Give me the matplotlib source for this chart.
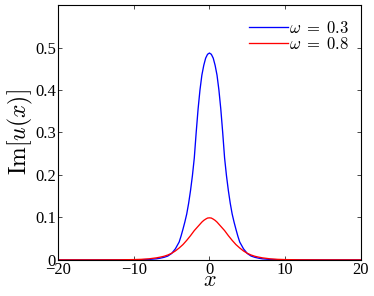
import numpy as np
import matplotlib
matplotlib.use("Agg")
import matplotlib.pyplot as plt

# Half-profile x positions (symmetric about 0)
x_half = [0, 0.25, 0.5, 0.75, 1.0, 1.25, 1.5, 1.75, 2.0, 2.25, 2.5, 2.75,
          3.0, 3.25, 3.5, 3.75, 4.0, 4.5, 5.0, 5.5, 6.0, 6.5,
          7.0, 8.0, 9.0, 10.0, 12.0, 15.0, 20.0]
blue_half = [0.487, 0.484, 0.475, 0.458, 0.435, 0.400, 0.355, 0.300, 0.240,
             0.198, 0.163, 0.133, 0.108, 0.089, 0.072, 0.056, 0.042,
             0.026, 0.015, 0.009, 0.006, 0.004, 0.0025, 0.001, 0.0005,
             0.0002, 0.00005, 0.0, 0.0]
red_half = [0.099, 0.0985, 0.096, 0.093, 0.089, 0.084, 0.079, 0.074, 0.069,
            0.063, 0.057, 0.0515, 0.046, 0.041, 0.036, 0.032, 0.028,
            0.021, 0.0155, 0.0115, 0.0085, 0.0065, 0.0048, 0.0025, 0.0013,
            0.0007, 0.0002, 0.00003, 0.0]
labels = [r'$\omega\; =\; 0.3$', r'$\omega\; =\; 0.8$']
xticks = [-20, -10, 0, 10, 20]
yticks = [0, 0.1, 0.2, 0.3, 0.4, 0.5]

xh = np.array(x_half)
x = np.concatenate([-xh[::-1], xh[1:]])
blue = np.concatenate([np.array(blue_half)[::-1], np.array(blue_half)[1:]])
red = np.concatenate([np.array(red_half)[::-1], np.array(red_half)[1:]])

plt.rcParams['mathtext.fontset'] = 'cm'
plt.rcParams['font.family'] = 'Liberation Serif'

fig = plt.figure(figsize=(3.74, 2.96), dpi=100)
ax = fig.add_axes([0.155, 0.122, 0.81, 0.861])
ax.plot(x, blue, color=(0, 0, 1), lw=0.95, label=labels[0])
ax.plot(x, red, color=(1, 0, 0), lw=0.95, label=labels[1])
ax.set_xlim(-20, 20)
ax.set_ylim(0, 0.6)
ax.set_xticks(xticks)
ax.set_yticks(yticks)
ax.set_xticklabels(['\u221220', '\u221210', '0', '10', '20'])
ax.set_yticklabels(['0', '0.1', '0.2', '0.3', '0.4', '0.5'])
ax.tick_params(direction='in', top=True, right=True, length=3, width=0.5,
               labelsize=12, pad=1.5)
for s in ax.spines.values():
    s.set_linewidth(0.8)
ax.set_xlabel(r'$x$', fontsize=16, labelpad=-4.5)
ax.set_ylabel(r'$\mathrm{Im}[u(x)]$', fontsize=17, labelpad=0)
leg = ax.legend(loc='upper right', frameon=False, fontsize=12,
                handlelength=2.3, handletextpad=0.1, labelspacing=0.0,
                borderaxespad=0.3, bbox_to_anchor=(1.0, 0.985))
fig.savefig('out.png', dpi=100)
